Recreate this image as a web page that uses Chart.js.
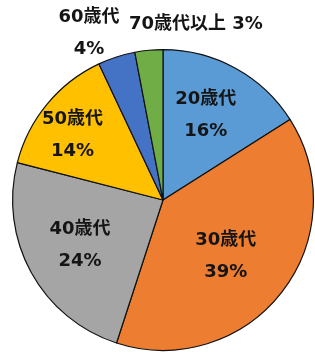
<!DOCTYPE html>
<html><head><meta charset="utf-8">
<script src="https://cdn.jsdelivr.net/npm/chart.js@4"></script>
<style>html,body{margin:0;padding:0;background:#fff;}canvas{display:block;}</style>
</head><body>
<canvas id="c" width="315" height="355"></canvas>
<script>
const categories = ['20歳代', '30歳代', '40歳代', '50歳代', '60歳代', '70歳代以上'];
const values = [16, 39, 24, 14, 4, 3];
const colors = ['#5B9BD5', '#ED7D31', '#A5A5A5', '#FFC000', '#4472C4', '#70AD47'];

// label layout: radial factor (x outer radius) and angle delta (deg) from slice middle; inline = one line
const labelLayout = [
  {r: 0.63, da: -2, inline: false},
  {r: 0.56, da: 4, inline: false},
  {r: 0.63, da: 0, inline: false},
  {r: 0.74, da: -4, inline: false},
  {r: 1.21, da: -6, inline: false},
  {r: 1.19, da: 16, inline: true}
];

const labelPlugin = {
  id: 'pieLabels',
  afterDatasetsDraw(chart) {
    const ctx = chart.ctx;
    const meta = chart.getDatasetMeta(0);
    ctx.save();
    ctx.font = 'bold 18px "DejaVu Sans", "Noto Sans CJK JP", sans-serif';
    ctx.fillStyle = '#151515';
    ctx.textAlign = 'center';
    ctx.textBaseline = 'middle';
    meta.data.forEach((arc, i) => {
      const p = arc.getProps(['x', 'y', 'startAngle', 'endAngle', 'outerRadius'], true);
      const L = labelLayout[i];
      const mid = (p.startAngle + p.endAngle) / 2 + L.da * Math.PI / 180;
      const rr = p.outerRadius * L.r;
      const x = p.x + Math.cos(mid) * rr;
      const y = p.y + Math.sin(mid) * rr;
      const pct = values[i] + '%';
      if (L.inline) {
        ctx.fillText(categories[i] + ' ' + pct, x, y);
      } else {
        ctx.fillText(categories[i], x, y - 16);
        ctx.fillText(pct, x, y + 16);
      }
    });
    ctx.restore();
  }
};

new Chart(document.getElementById('c'), {
  type: 'pie',
  data: {
    labels: categories,
    datasets: [{
      data: values,
      backgroundColor: colors,
      borderColor: '#111',
      borderWidth: 1.2
    }]
  },
  options: {
    responsive: false,
    animation: false,
    events: [],
    layout: {padding: {left: 12, right: 1, top: 49, bottom: 4}},
    plugins: {legend: {display: false}, tooltip: {enabled: false}}
  },
  plugins: [labelPlugin]
});
</script>
</body></html>
